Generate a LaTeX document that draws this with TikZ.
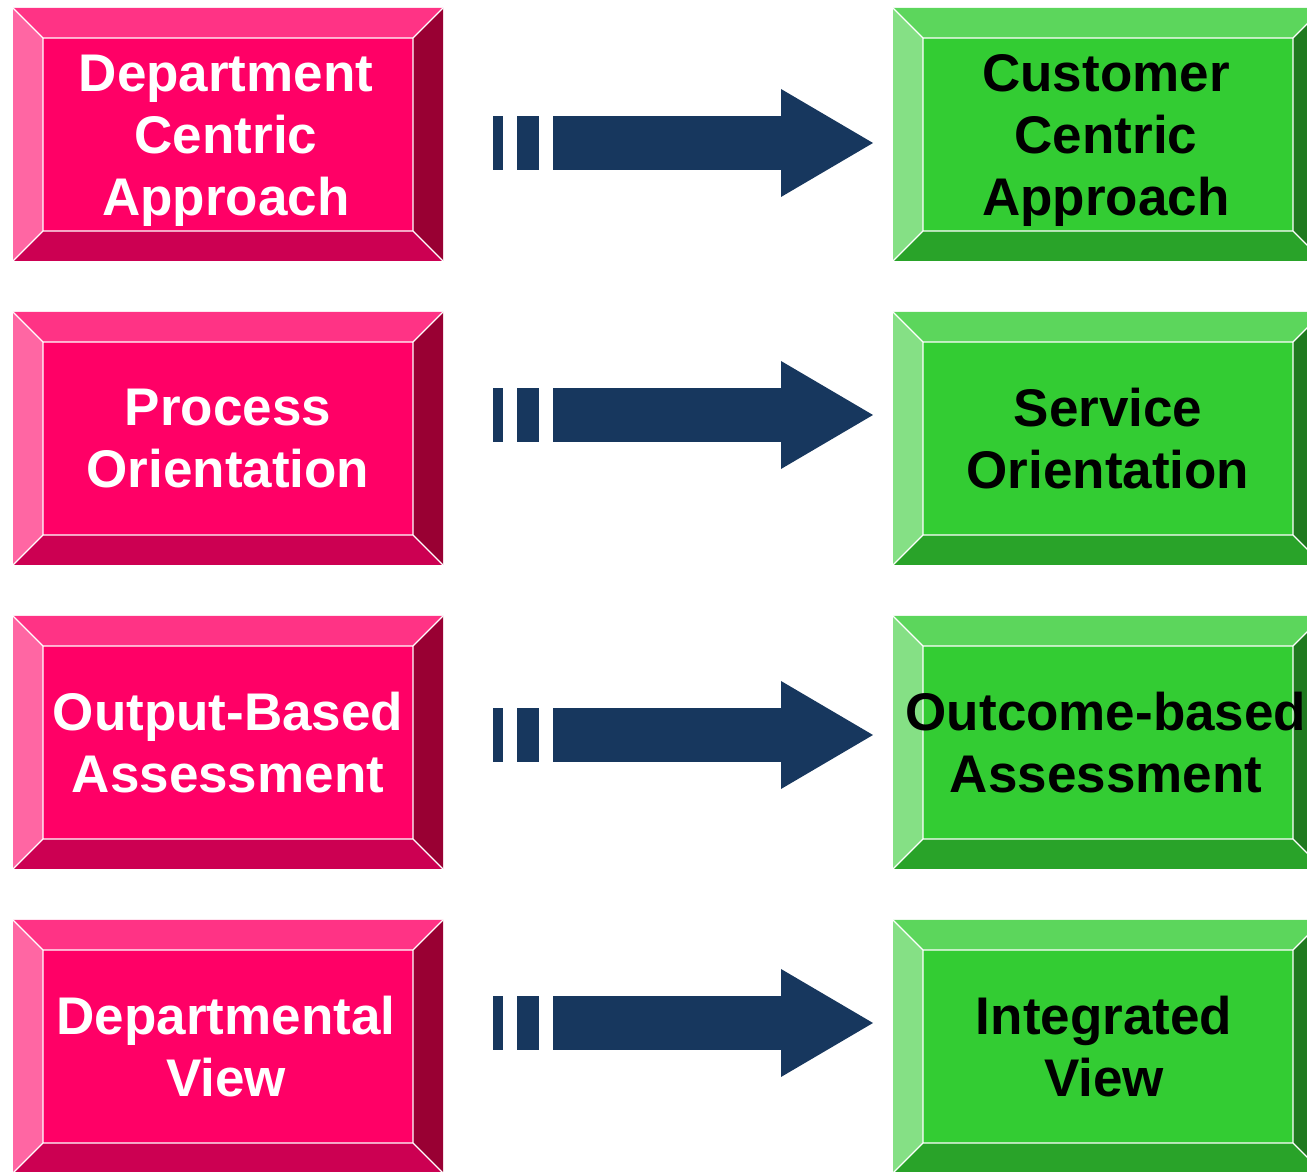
\documentclass[tikz,border=0pt]{standalone}
\usepackage{fontspec}
\setmainfont{Liberation Sans}
\usepackage{tikz}
\usetikzlibrary{arrows.meta}

\definecolor{pface}{HTML}{FF0066}
\definecolor{ptop}{HTML}{FF3385}
\definecolor{pleft}{HTML}{FF66A3}
\definecolor{pbottom}{HTML}{CC0052}
\definecolor{pright}{HTML}{990033}
\definecolor{gface}{HTML}{33CC33}
\definecolor{gtop}{HTML}{5CD65C}
\definecolor{gleft}{HTML}{85E085}
\definecolor{gbottom}{HTML}{29A329}
\definecolor{gright}{HTML}{1F7A1F}
\definecolor{navy}{HTML}{17375E}

% #1 centre, #2 face, #3 top, #4 left, #5 bottom, #6 right
\newcommand{\bevelbox}[6]{%
	\begin{scope}[shift={#1}]
		\fill[#3] (-215,126.5) -- (215,126.5) -- (185,96.5) -- (-185,96.5) -- cycle;
		\fill[#4] (-215,126.5) -- (-185,96.5) -- (-185,-96.5) -- (-215,-126.5) -- cycle;
		\fill[#5] (-215,-126.5) -- (-185,-96.5) -- (185,-96.5) -- (215,-126.5) -- cycle;
		\fill[#6] (215,126.5) -- (215,-126.5) -- (185,-96.5) -- (185,96.5) -- cycle;
		\fill[#2] (-185,-96.5) rectangle (185,96.5);
		\draw[rim] (-185,-96.5) rectangle (185,96.5)
			(-215,126.5) -- (-185,96.5)  (215,126.5) -- (185,96.5)
			(-215,-126.5) -- (-185,-96.5)  (215,-126.5) -- (185,-96.5);
	\end{scope}}

\begin{document}
\begin{tikzpicture}[x=1pt, y=1pt,
	rim/.style={white, line width=1.3pt},
	label/.style={align=center, inner sep=0pt, font=\bfseries\fontsize{53}{62}\selectfont},
	oldtext/.style={label, text=white},
	newtext/.style={label, text=black},
	flow/.style={navy, line width=54pt, dash pattern=on 10pt off 14pt on 22pt off 14pt on 2000pt,
		-{Triangle[length=92pt, width=108pt, line width=0pt]}}]
	\useasboundingbox (0,0) rectangle (1307,1172);
	% left boxes
	\bevelbox{(228,1037.5)}{pface}{ptop}{pleft}{pbottom}{pright}
	\bevelbox{(228,733.5)}{pface}{ptop}{pleft}{pbottom}{pright}
	\bevelbox{(228,429.5)}{pface}{ptop}{pleft}{pbottom}{pright}
	\bevelbox{(228,125.5)}{pface}{ptop}{pleft}{pbottom}{pright}
	% right boxes
	\bevelbox{(1108,1037.5)}{gface}{gtop}{gleft}{gbottom}{gright}
	\bevelbox{(1108,733.5)}{gface}{gtop}{gleft}{gbottom}{gright}
	\bevelbox{(1108,429.5)}{gface}{gtop}{gleft}{gbottom}{gright}
	\bevelbox{(1108,125.5)}{gface}{gtop}{gleft}{gbottom}{gright}

	\node (old1) at (226,1031) [oldtext] {Department\\Centric\\Approach};
	\node (old2) at (228,733.5) [oldtext] {Process\\Orientation};
	\node (old3) at (228,429.5) [oldtext] {Output-Based\\Assessment};
	\node (old4) at (226,125.5) [oldtext] {Departmental\\View};
	\node (new1) at (1106,1031) [newtext] {Customer\\Centric\\Approach};
	\node (new2) at (1108,733.5) [newtext] {Service\\Orientation};
	\node (new3) at (1106,429.5) [newtext] {Outcome-based\\Assessment};
	\node (new4) at (1104,125.5) [newtext] {Integrated\\View};

	% arrows
	\coordinate (from1) at (493,1029);	\coordinate (to1) at (873,1029);
	\coordinate (from2) at (493,757);	\coordinate (to2) at (873,757);
	\coordinate (from3) at (493,437);	\coordinate (to3) at (873,437);
	\coordinate (from4) at (493,149);	\coordinate (to4) at (873,149);
	\draw[flow] (from1) -- (to1);
	\draw[flow] (from2) -- (to2);
	\draw[flow] (from3) -- (to3);
	\draw[flow] (from4) -- (to4);
\end{tikzpicture}
\end{document}
